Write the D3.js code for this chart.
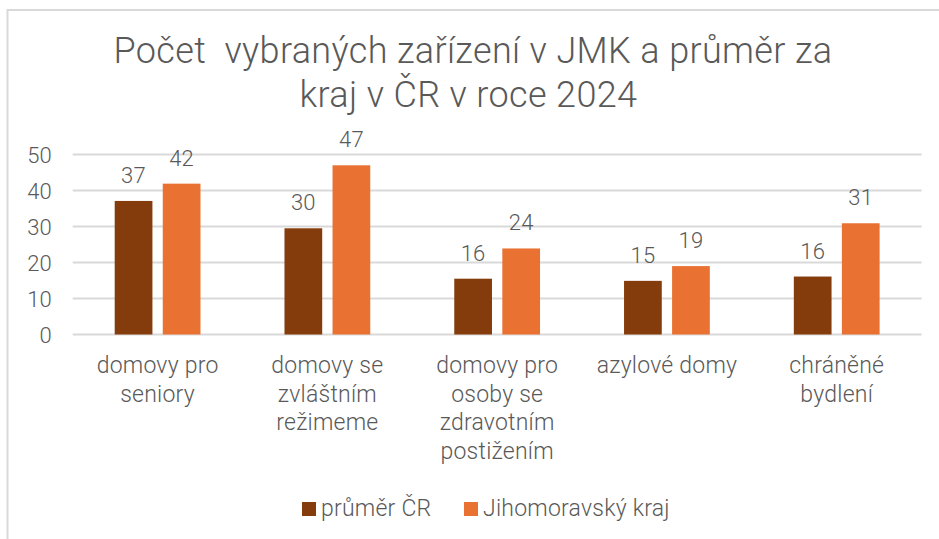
<!DOCTYPE html>
<html>
<head>
<meta charset="utf-8">
<script src="https://cdn.jsdelivr.net/npm/d3@7"></script>
<style>
  html, body { margin: 0; padding: 0; background: #fff; }
  svg { display: block; }
  text { font-family: Roboto, "Liberation Sans", sans-serif; font-weight: 300; fill: #595959; letter-spacing: 0.01em; white-space: pre; }
</style>
</head>
<body>
<svg id="chart" width="939" height="539"></svg>
<script>
const titleLines = ["Počet  vybraných zařízení v JMK a průměr za", "kraj v ČR v roce 2024 "];
const categories = [
  ["domovy pro", "seniory"],
  ["domovy se", "zvláštním", "režimeme"],
  ["domovy pro", "osoby se", "zdravotním", "postižením"],
  ["azylové domy"],
  ["chráněné", "bydlení"]
];
const seriesNames = ["průměr ČR", "Jihomoravský kraj"];
const prumerCR = [37.1, 29.5, 15.5, 14.9, 16.1];
const jihomoravsky = [41.9, 47.0, 23.9, 19.0, 30.9];
const yTicks = [0, 10, 20, 30, 40, 50];
const colors = ["#843C0C", "#E97132"];

const series = [prumerCR, jihomoravsky];
const svg = d3.select("#chart");

// frame
svg.append("path")
  .attr("d", "M7.5,540 L7.5,10 L940,10")
  .attr("fill", "none").attr("stroke", "#d9d9d9").attr("stroke-width", 2);

// title
const title = svg.append("text").attr("text-anchor", "middle").style("font-size", "36px");
titleLines.forEach((t, i) => {
  title.append("tspan").attr("x", 473).attr("y", 63 + i * 43.5).text(t);
});

const x0 = d3.scaleBand().domain(d3.range(categories.length)).range([72.7, 921.6]).paddingInner(0).paddingOuter(0);
const x1 = d3.scaleBand().domain([0, 1]).range([42, x0.bandwidth() - 42]).paddingInner(0.215);
const y = d3.scaleLinear().domain([0, 50]).range([334.5, 154.5]);

// grid
svg.append("g").selectAll("line").data(yTicks).join("line")
  .attr("x1", x0.range()[0]).attr("x2", x0.range()[1])
  .attr("y1", d => y(d)).attr("y2", d => y(d))
  .attr("stroke", "#d9d9d9").attr("stroke-width", 2);

// y axis labels
const yAxis = d3.axisLeft(y).tickValues(yTicks).tickSize(0).tickPadding(0);
const ga = svg.append("g").attr("transform", "translate(52,0)").call(yAxis);
ga.select(".domain").remove();
ga.selectAll("text").style("font-size", "22px").style("font-family", null).attr("fill", null).attr("dy", "0.35em");

// bars
const groups = svg.append("g").selectAll("g").data(categories).join("g")
  .attr("transform", (d, i) => `translate(${x0(i)},0)`);
series.forEach((vals, s) => {
  groups.append("rect")
    .attr("x", x1(s)).attr("width", x1.bandwidth())
    .attr("y", (d, i) => y(vals[i]))
    .attr("height", (d, i) => y(0) - y(vals[i]))
    .attr("fill", colors[s]);
  groups.append("text")
    .attr("text-anchor", "middle")
    .attr("x", x1(s) + x1.bandwidth() / 2)
    .attr("y", (d, i) => y(vals[i]) - 18)
    .style("font-size", "22px")
    .text((d, i) => Math.round(vals[i]));
});

// category labels
groups.append("text")
  .attr("text-anchor", "middle")
  .style("font-size", "23px")
  .each(function(lines) {
    const t = d3.select(this);
    lines.forEach((l, k) => t.append("tspan").attr("x", x0.bandwidth() / 2).attr("y", 373 + k * 28.5).text(l));
  });

// legend
const legendX = [302, 464];
const lg = svg.append("g").selectAll("g").data(seriesNames).join("g")
  .attr("transform", (d, i) => `translate(${legendX[i]},0)`);
lg.append("rect").attr("x", 0).attr("y", 502).attr("width", 14).attr("height", 14).attr("fill", (d, i) => colors[i]);
lg.append("text").attr("x", 19).attr("y", 516).style("font-size", "23px").text(d => d);
</script>
</body>
</html>
